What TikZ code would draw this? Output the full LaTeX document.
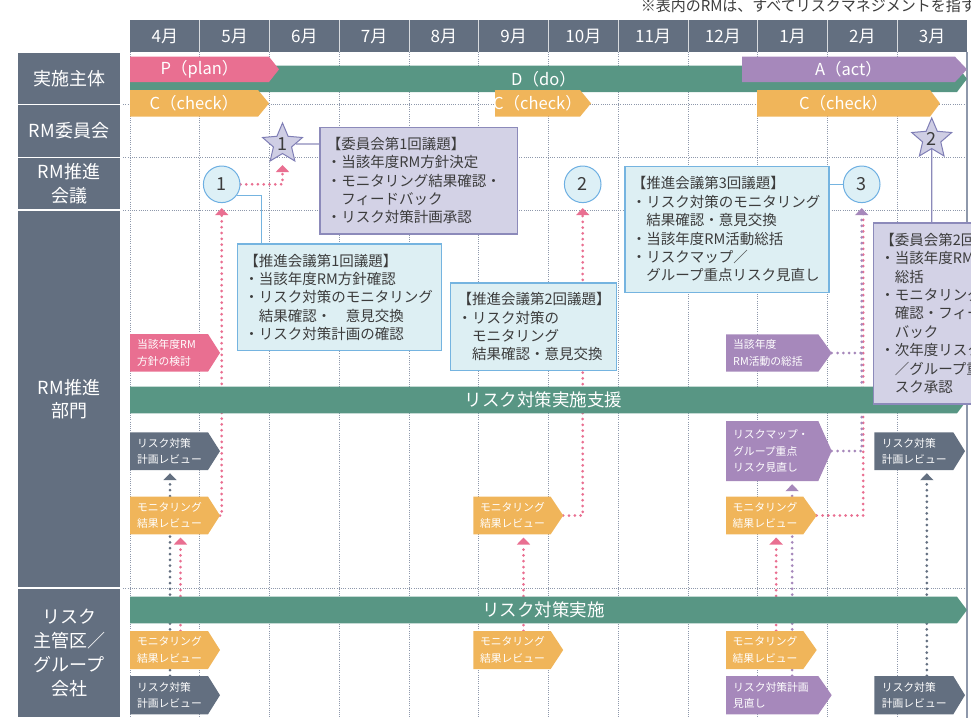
\documentclass[tikz,border=0pt]{standalone}
\usepackage{fontspec}
\setmainfont{Noto Sans CJK JP}
\usetikzlibrary{arrows.meta,shapes.geometric}
\tikzset{font={\fontsize{14.5pt}{18.4pt}\selectfont}}
\definecolor{slate}{HTML}{636F80}
\definecolor{pinkc}{HTML}{E96F91}
\definecolor{greenc}{HTML}{589684}
\definecolor{purplec}{HTML}{A688BB}
\definecolor{orangec}{HTML}{F0B55A}
\definecolor{kfill}{HTML}{D3D2E6}
\definecolor{kline}{HTML}{8C8ABA}
\definecolor{bfill}{HTML}{DDEFF3}
\definecolor{bline}{HTML}{75B4E0}
\definecolor{circfill}{HTML}{DDF0F6}
\definecolor{circline}{HTML}{6DAFE2}
\definecolor{starfill}{HTML}{CFCEE4}
\definecolor{starline}{HTML}{7F7EB5}
\definecolor{gridc}{HTML}{8E98AB}
\definecolor{textc}{HTML}{3C3C3C}
\pgfdeclarelayer{grid}
\pgfdeclarelayer{links}
\pgfsetlayers{grid,links,main}
\newcommand{\bulletgap}{\hphantom{・}}
\newcommand{\flowbar}[8]{%
  \pgfmathsetmacro{\barwd}{#5-#3}%
  \pgfmathsetmacro{\barht}{#6-#4}%
  \fill[#2] (#3,#4) -- (#5,#4) -- ({#5+#7},{(#4+#6)/2}) -- (#5,#6) -- (#3,#6) -- cycle;
  \node[#2,fill=none,inner sep=0pt,minimum width=\barwd pt,minimum height=\barht pt] (#1) at ({(#3+#5)/2},{(#4+#6)/2}) {#8};
  \coordinate (#1-tip) at ({#5+#7},{(#4+#6)/2});
}

\begin{document}
\begin{tikzpicture}[x=1pt,y=-1pt,>={Triangle[width=13pt,length=7pt]},
    rowhead/.style={fill=slate,draw=white,line width=1.2pt,text=white,minimum width=104pt,inner sep=0pt,align=center,font=\fontsize{18pt}{23.7pt}\selectfont},
    monthhead/.style={text=white,font=\fontsize{17pt}{20pt}\selectfont},
    barfont/.style={text=white,font=\fontsize{16.5pt}{19pt}\selectfont},
    pbar/.style={fill=pinkc,barfont},
    dbar/.style={fill=greenc,barfont},
    abar/.style={fill=purplec,barfont},
    cbar/.style={fill=orangec,barfont},
    gbar/.style={fill=greenc,text=white,font=\fontsize{17.5pt}{20pt}\selectfont},
    chev/.style={text=white,align=left,text width=64pt,font=\fontsize{10.8pt}{16.5pt}\selectfont},
    pchev/.style={chev,fill=pinkc},
    ochev/.style={chev,fill=orangec},
    schev/.style={chev,fill=slate},
    uchev/.style={chev,fill=purplec,text width=78pt},
    kbox/.style={fill=kfill,draw=kline,line width=1.2pt,text=textc,align=left,anchor=north west,inner xsep=7pt,inner ysep=0pt},
    mbox/.style={kbox,fill=bfill,draw=bline},
    meet/.style={circle,fill=circfill,draw=circline,line width=1pt,minimum size=36.6pt,inner sep=0pt,text=textc,font=\fontsize{18pt}{20pt}\selectfont},
    kstar/.style={star,star points=5,star point ratio=2.2,fill=starfill,draw=starline,line width=1pt,minimum size=42pt,inner sep=0pt,text=textc,font=\fontsize{18pt}{20pt}\selectfont},
    gridline/.style={draw=gridc,line width=0.6pt,dash pattern=on 1pt off 1.2pt},
    linkline/.style={draw=kline,line width=1.2pt},
    bluelink/.style={draw=bline,line width=1.2pt},
    dotlink/.style={line width=3pt,line cap=round,dash pattern=on 0pt off 5.8pt},
    pinkdot/.style={dotlink,draw=pinkc},
    slatedot/.style={dotlink,draw=slate},
    purpledot/.style={dotlink,draw=purplec}]

  \useasboundingbox (0,0) rectangle (971,718);

  \begin{pgfonlayer}{grid}
    \foreach \i in {0,...,11}
      \draw[gridline] ({130+\i*69.75},52) -- ({130+\i*69.75},718);
    \foreach \y in {104.7,157.3,210,588}
      \draw[gridline] (121,\y) -- (967,\y);
    \draw[gridc,line width=1.2pt] (967,52) -- (967,718);
  \end{pgfonlayer}

  \node[anchor=base east,inner sep=0pt,text=textc,font=\fontsize{15pt}{17pt}\selectfont] (note) at (976,11) {※表内のRMは、すべてリスクマネジメントを指す};

  \fill[slate] (130,20) rectangle (967,52);
  \foreach \i in {1,...,11}
    \draw[white!75!slate,line width=1pt] ({130+\i*69.75},20) -- ({130+\i*69.75},52);
  \foreach \m [count=\i from 0] in {4月,5月,6月,7月,8月,9月,10月,11月,12月,1月,2月,3月}
    \node[monthhead] (h\i) at ({164.9+\i*69.75},36) {\m};

  \node[rowhead,minimum height=52.7pt] (r1) at (69,78.35) {実施主体};
  \node[rowhead,minimum height=52.6pt] (r2) at (69,131) {RM委員会};
  \node[rowhead,minimum height=52.7pt] (r3) at (69,183.65) {RM推進\\会議};
  \node[rowhead,minimum height=378pt] (r4) at (69,399) {RM推進\\部門};
  \node[rowhead,minimum height=130pt] (r5) at (69,653) {リスク\\主管区／\\グループ\\会社};

  \flowbar{ddo}{dbar}{130}{65.7}{957}{92}{10}{D（do）}
  \flowbar{pplan}{pbar}{130}{56.7}{269}{82}{10}{P（plan）}
  \flowbar{aact}{abar}{742}{56.7}{955}{82}{12}{A（act）}
  \flowbar{check1}{cbar}{130}{90}{258}{116.7}{11}{C（check）}
  \flowbar{check2}{cbar}{495}{90}{580}{116.7}{11}{C（check）}
  \flowbar{check3}{cbar}{757}{90}{930}{116.7}{10}{C（check）}

  \flowbar{support}{gbar}{130}{386.7}{957}{413.3}{10}{リスク対策実施支援}
  \flowbar{implement}{gbar}{130}{596.7}{957}{623.3}{10}{リスク対策実施}

  \flowbar{policy}{pchev}{130}{334}{208}{371.7}{12}{当該年度RM\\方針の検討}
  \flowbar{plan1}{schev}{130}{432.3}{208}{470}{12}{リスク対策\\計画レビュー}
  \flowbar{mon1}{ochev}{130}{496.7}{208}{534.3}{12}{モニタリング\\結果レビュー}
  \flowbar{mon2}{ochev}{473.3}{496.7}{550.7}{534.3}{12.5}{モニタリング\\結果レビュー}
  \flowbar{mon3}{ochev}{726}{496.7}{803.3}{534.3}{13.4}{モニタリング\\結果レビュー}
  \flowbar{summary}{uchev}{726}{334.3}{818.3}{371.7}{13.4}{当該年度\\RM活動の総括}
  \flowbar{riskmap}{uchev}{726}{421}{818.3}{481}{13.4}{リスクマップ・\\グループ重点\\リスク見直し}
  \flowbar{plan2}{schev}{874.3}{432.3}{953.3}{470}{11.7}{リスク対策\\計画レビュー}

  \flowbar{bmon1}{ochev}{130}{631}{208}{669}{12}{モニタリング\\結果レビュー}
  \flowbar{bmon2}{ochev}{473.3}{631}{550.7}{669}{12.5}{モニタリング\\結果レビュー}
  \flowbar{bmon3}{ochev}{726}{631}{803.3}{669}{13.4}{モニタリング\\結果レビュー}
  \flowbar{bplan1}{schev}{130}{676}{208}{714.3}{12}{リスク対策\\計画レビュー}
  \flowbar{revise}{uchev}{726}{676}{818.3}{714.3}{13.4}{リスク対策計画\\見直し}
  \flowbar{bplan2}{schev}{874.3}{676}{953.3}{714.3}{11.7}{リスク対策\\計画レビュー}

  \node[kstar] (k1) at (282.5,144) {1};
  \node[kstar] (k2) at (931.7,139) {2};
  \node[meet] (m1) at (221.7,184.3) {1};
  \node[meet] (m2) at (582.7,184.3) {2};
  \node[meet] (m3) at (861.7,184.3) {3};

  \node[kbox,text width=183.4pt,minimum height=106.6pt] (kbox1) at (319.3,126.7)
    {【委員会第1回議題】\\・当該年度RM方針決定\\・モニタリング結果確認・\\\bulletgap{}フィードバック\\・リスク対策計画承認};
  \node[mbox,text width=190.3pt,minimum height=106.7pt] (mbox1) at (236.7,243.3)
    {【推進会議第1回議題】\\・当該年度RM方針確認\\・リスク対策のモニタリング\\\bulletgap{}結果確認・　意見交換\\・リスク対策計画の確認};
  \node[mbox,text width=151.7pt,minimum height=87.7pt] (mbox2) at (450,282.3)
    {【推進会議第2回議題】\\・リスク対策の\\\bulletgap{}モニタリング\\\bulletgap{}結果確認・意見交換};
  \node[mbox,text width=190pt,minimum height=126pt] (mbox3) at (624.3,165.7)
    {【推進会議第3回議題】\\・リスク対策のモニタリング\\\bulletgap{}結果確認・意見交換\\・当該年度RM活動総括\\・リスクマップ／\\\bulletgap{}グループ重点リスク見直し};
  \node[kbox,text width=121pt,minimum height=181pt] (kbox2) at (872.7,222.3)
    {【委員会第2回議題】\\・当該年度RM活動\\\bulletgap{}総括\\・モニタリング結果\\\bulletgap{}確認・フィード\\\bulletgap{}バック\\・次年度リスクマップ\\\bulletgap{}／グループ重点リ\\\bulletgap{}スク承認};

  \begin{pgfonlayer}{links}
    \draw[linkline] (k1) -- (k1 -| kbox1.west);
    \draw[linkline] (k2) -- (kbox2.north -| k2);
    \draw[bluelink] (m1.-37) -| ([xshift=25pt]mbox1.north west);
    \draw[bluelink] (mbox3.east |- m3) -- (m3);

    \draw[pinkdot,->] (mon1-tip) -| ([yshift=-5pt]m1.south);
    \draw[pinkdot,->] (m1) -| ([yshift=-21pt]k1.center);
    \draw[pinkdot,->] (mon2-tip) -| ([yshift=-5pt]m2.south);
    \draw[pinkdot] (mon3-tip) -| ([xshift=1.5pt,yshift=-9pt]m3.south);
    \draw[purpledot] (summary-tip) -- (summary-tip -| m3);
    \draw[purpledot,->] (riskmap-tip) -| ([yshift=-5pt]m3.south);

    \draw[pinkdot,->] ([xshift=11.5pt]bmon1.north) -- ([xshift=11.5pt,yshift=-3pt]mon1.south);
    \draw[pinkdot,->] ([xshift=11.5pt]bmon2.north) -- ([xshift=11.5pt,yshift=-3pt]mon2.south);
    \draw[pinkdot,->] ([xshift=11.5pt]bmon3.north) -- ([xshift=11.5pt,yshift=-3pt]mon3.south);
    \draw[slatedot,->] ([xshift=1pt]bplan1.north) -- ([xshift=1pt,yshift=-3pt]plan1.south);
    \draw[slatedot,->] ([xshift=13pt]bplan2.north) -- ([xshift=13pt,yshift=-3pt]plan2.south);
    \draw[purpledot,->] ([xshift=20pt]revise.north) -- ([xshift=20pt,yshift=-3pt]riskmap.south);
  \end{pgfonlayer}
\end{tikzpicture}
\end{document}
